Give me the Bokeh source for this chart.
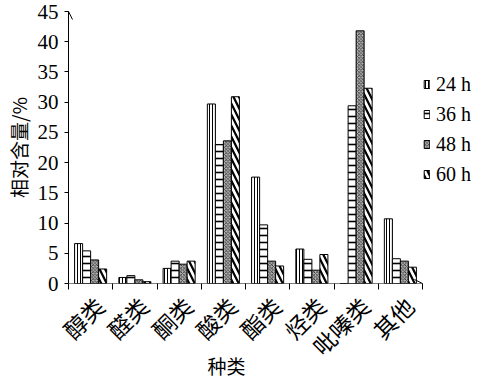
from bokeh.plotting import figure
from bokeh.models import (Range1d, FixedTicker, ColumnDataSource, Legend, LegendItem,
                          Arrow, OpenHead, Title)
from bokeh.embed import file_html
from bokeh.resources import INLINE
import math

categories = ["醇类", "醛类", "酮类", "酸类", "酯类", "烃类", "吡嗪类", "其他"]
h24 = [6.6, 1.0, 2.5, 29.7, 17.6, 5.7, 0.0, 10.7]
h36 = [5.4, 1.3, 3.7, 23.0, 9.7, 4.0, 29.4, 4.1]
h48 = [3.9, 0.6, 3.2, 23.6, 3.7, 2.2, 41.8, 3.7]
h60 = [2.4, 0.3, 3.7, 30.9, 2.9, 4.8, 32.3, 2.7]
series_names = ["24 h", "36 h", "48 h", "60 h"]
y_ticks = [0, 5, 10, 15, 20, 25, 30, 35, 40, 45]

W, H = 478, 377
left, top, bottom = 68, 11, 93
cat_px = 44.25
frame_w = W - left
x_end = frame_w / cat_px

p = figure(width=W, height=H, output_backend="svg", toolbar_location=None,
           x_range=Range1d(0, x_end), y_range=Range1d(0, 45),
           min_border_left=left, min_border_right=0, min_border_top=top,
           min_border_bottom=bottom)
p.outline_line_color = None
p.xgrid.visible = False
p.ygrid.visible = False
p.background_fill_color = "white"
p.border_fill_color = "white"

n = len(categories)
centers = [i + 0.5 for i in range(n)]
bw = 0.181
offsets = [-1.5 * bw, -0.5 * bw, 0.5 * bw, 1.5 * bw]
styles = [
    dict(fill_color="white", hatch_pattern="vertical_line", hatch_scale=3, hatch_weight=1.0,
         hatch_color="black"),
    dict(fill_color="white", hatch_pattern="horizontal_line", hatch_scale=7, hatch_weight=1.6,
         hatch_color="black"),
    dict(fill_color="#b4b4b4", hatch_pattern="diagonal_cross", hatch_scale=3.5, hatch_weight=0.8,
         hatch_color="#222222"),
    dict(fill_color="white", hatch_pattern="left_diagonal_line", hatch_scale=11, hatch_weight=2.2,
         hatch_color="black"),
]
items = []
for vals, off, st, name in zip([h24, h36, h48, h60], offsets, styles, series_names):
    src = ColumnDataSource(dict(x=[c + off for c in centers], top=vals))
    r = p.vbar(x="x", top="top", bottom=0, width=bw, source=src,
               line_color="black", line_width=1, **st)
    items.append(LegendItem(label=name, renderers=[r]))

legend = Legend(items=items, location=(355, 94))
legend.border_line_color = None
legend.background_fill_alpha = 0
legend.padding = 0
legend.margin = 0
legend.spacing = 0
legend.label_height = 30
legend.glyph_height = 10
legend.glyph_width = 7
legend.label_standoff = 6
legend.label_text_font = "Liberation Serif"
legend.label_text_font_size = "20px"
legend.label_text_color = "black"
p.add_layout(legend)

# x axis (category labels slightly right of centre, as in the reference)
label_pos = [c + 0.2 for c in centers]
xa = p.xaxis[0]
xa.ticker = FixedTicker(ticks=label_pos, minor_ticks=list(range(n + 1)))
xa.major_label_overrides = {c: lab for c, lab in zip(label_pos, categories)}
xa.major_label_orientation = math.pi / 4
xa.major_label_text_font = "Noto Sans CJK SC"
xa.major_label_text_font_size = "23px"
xa.major_label_text_color = "black"
xa.major_tick_out = 0
xa.major_tick_in = 0
xa.minor_tick_out = 6
xa.minor_tick_in = 0
xa.minor_tick_line_color = "black"
xa.minor_tick_line_width = 1
xa.axis_line_color = None
xa.major_label_standoff = 12

# y axis
ya = p.yaxis[0]
ya.ticker = FixedTicker(ticks=y_ticks, minor_ticks=[])
ya.major_label_text_font = "Liberation Serif"
ya.major_label_text_font_size = "21px"
ya.major_label_text_color = "black"
ya.major_tick_out = 4
ya.major_tick_in = 0
ya.major_tick_line_color = "black"
ya.axis_line_color = "black"
ya.axis_line_width = 1
ya.major_label_standoff = 6
ya.axis_label = "相对含量/%"
ya.axis_label_text_font = "Noto Sans CJK SC"
ya.axis_label_text_font_size = "19px"
ya.axis_label_text_font_style = "normal"
ya.axis_label_text_color = "black"
ya.axis_label_standoff = 3

# axis arrows
p.add_layout(Arrow(end=OpenHead(size=8, line_width=1, line_color="black"),
                   x_start=0, y_start=0, x_end=8.0, y_end=0,
                   line_color="black", line_width=1.2))
p.add_layout(Arrow(end=OpenHead(size=8, line_width=1, line_color="black"),
                   x_start=0, y_start=43, x_end=0, y_end=45,
                   line_color="black", line_width=1))

# x axis title
p.add_layout(Title(text="种类", align="left", offset=139, standoff=-51,
                   vertical_align="top",
                   text_font="Noto Sans CJK SC", text_font_size="19px",
                   text_font_style="normal", text_color="black"), "below")

open("out.html", "w").write(file_html(p, INLINE))
